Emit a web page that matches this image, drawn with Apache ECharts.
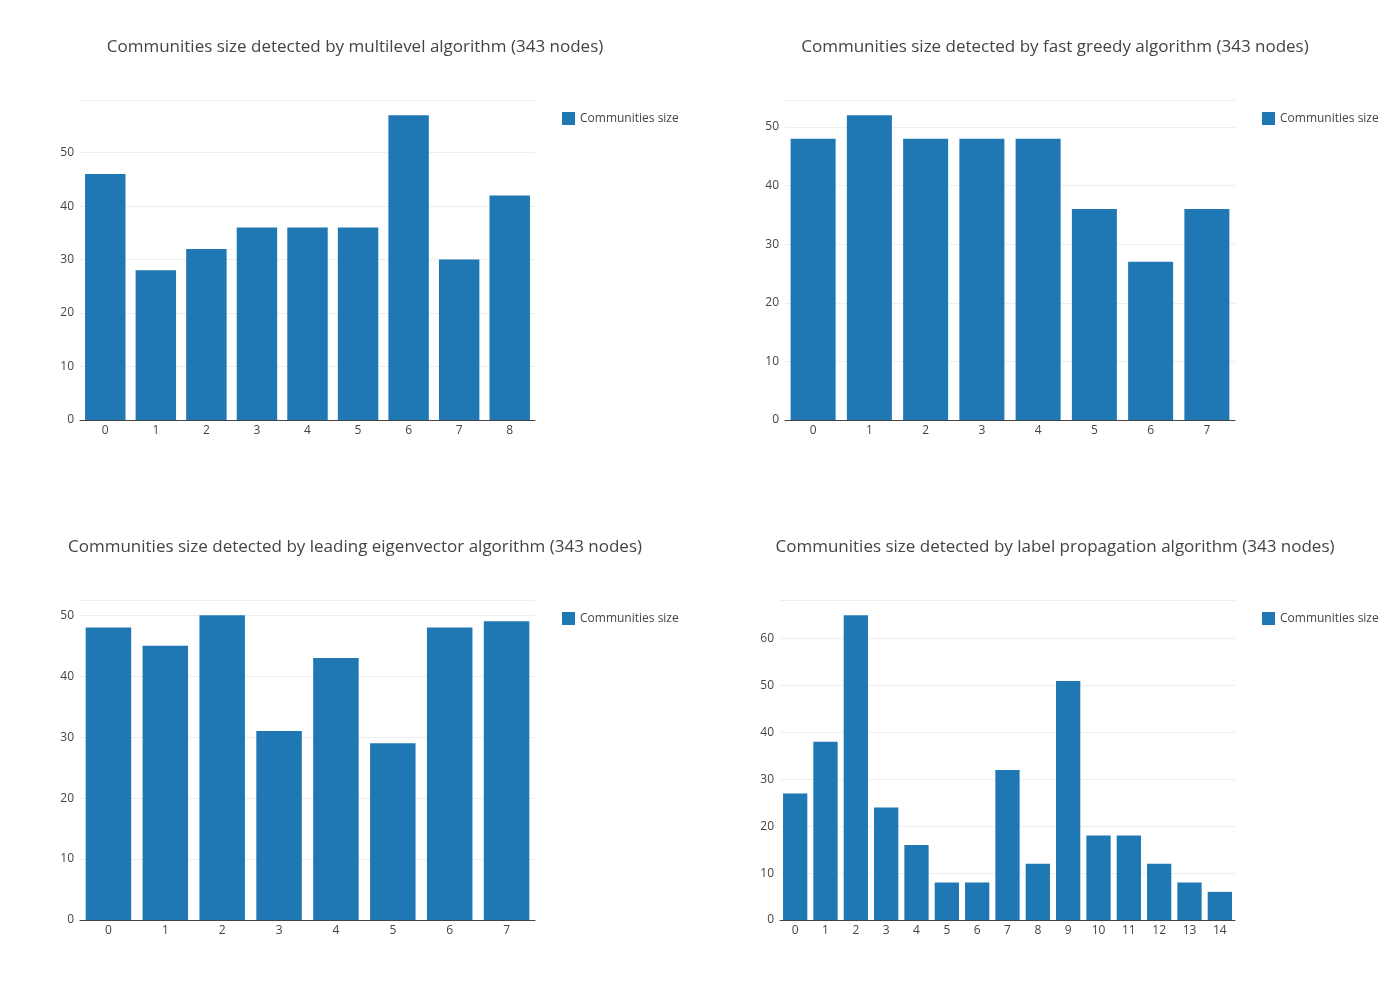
<!DOCTYPE html>
<html><head><meta charset="utf-8">
<script src="https://cdn.jsdelivr.net/npm/echarts@6/dist/echarts.min.js"></script>
<style>html,body{margin:0;padding:0;background:#fff}#c{width:1400px;height:1000px}</style>
</head><body><div id="c"></div>
<script>
const titles = [
  "Communities size detected by multilevel algorithm (343 nodes)",
  "Communities size detected by fast greedy algorithm (343 nodes)",
  "Communities size detected by leading eigenvector algorithm (343 nodes)",
  "Communities size detected by label propagation algorithm (343 nodes)"
];
const multilevel = [46,28,32,36,36,36,57,30,42];
const fastGreedy = [48,52,48,48,48,36,27,36];
const leadingEigen = [48,45,50,31,43,29,48,49];
const labelProp = [27,38,65,24,16,8,8,32,12,51,18,18,12,8,6];
const seriesData = [multilevel, fastGreedy, leadingEigen, labelProp];
const yMax = [59.85, 54.6, 52.5, 68.25];
const grids = [
  {left:80, width:455, top:100, height:320},
  {left:785, width:450, top:100, height:320},
  {left:80, width:455, top:600, height:320},
  {left:780, width:455, top:600, height:320}
];
const titlePos = [[350,34],[1050,34],[350,534],[1050,534]];
const legendPos = [[557,107],[1257,107],[557,607],[1257,607]];
const font = "'Open Sans', sans-serif";
const option = {
  animation:false,
  textStyle:{fontFamily:font},
  title: titles.map((t,i)=>({text:t, left:titlePos[i][0], top:titlePos[i][1], textAlign:'center',
    textStyle:{fontFamily:font, fontSize:17, fontWeight:'normal', color:'#444'}})),
  legend: seriesData.map((d,i)=>({data:['Communities size'+' '.repeat(i)], left:legendPos[i][0], top:legendPos[i][1],
    itemWidth:13, itemHeight:13, itemGap:10, icon:'rect',
    formatter:()=> 'Communities size',
    textStyle:{fontFamily:font, fontSize:12, color:'#444'}})),
  grid: grids,
  xAxis: seriesData.map((d,i)=>({type:'category', gridIndex:i, data:d.map((_,k)=>String(k)),
    axisLine:{lineStyle:{color:'#444'}}, axisTick:{show:false},
    axisLabel:{color:'#444', fontSize:12, margin:5}})),
  yAxis: seriesData.map((d,i)=>({type:'value', gridIndex:i, min:0, max:yMax[i], interval:10,
    axisLine:{show:false}, axisTick:{show:false},
    axisLabel:{color:'#444', fontSize:12, margin:6, showMaxLabel:false, formatter:v=>Math.round(v)===v?String(v):''},
    splitLine:{lineStyle:{color:'#eee'}}})),
  series: seriesData.map((d,i)=>({type:'bar', name:'Communities size'+' '.repeat(i), xAxisIndex:i, yAxisIndex:i,
    data:d, barCategoryGap:'20%', itemStyle:{color:'#1f77b4'}}))
};
echarts.init(document.getElementById('c')).setOption(option);
</script></body></html>
